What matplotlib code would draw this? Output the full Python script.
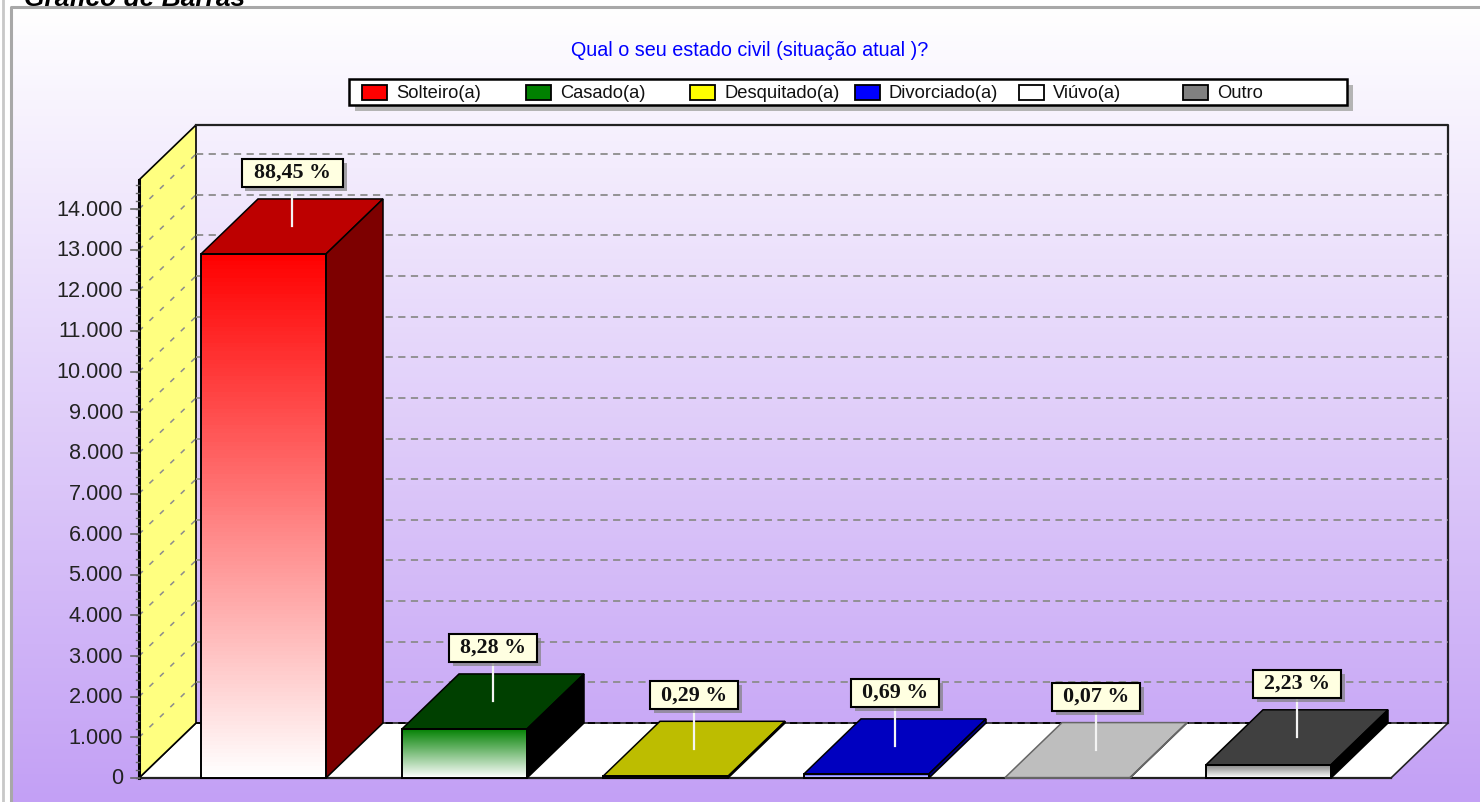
import numpy as np
from matplotlib import pyplot as plt
from matplotlib.colors import LinearSegmentedColormap
from matplotlib.patches import Polygon, Rectangle

categories = ['Solteiro(a)', 'Casado(a)', 'Desquitado(a)', 'Divorciado(a)', 'Viúvo(a)', 'Outro']
counts = [12894, 1207, 42, 101, 10, 325]
percents = ['88,45 %', '8,28 %', '0,29 %', '0,69 %', '0,07 %', '2,23 %']
front_colors = ['#ff0000', '#008000', '#ffff00', '#0000ff', '#ffffff', '#808080']
top_colors = ['#bd0000', '#004000', '#bdbd00', '#0000c0', '#bebebe', '#404040']
side_colors = ['#7d0000', '#000000', '#7d7d00', '#00007d', '#7d7d7d', '#000000']
edge_colors = ['#000000', '#000000', '#000000', '#000000', '#666666', '#000000']
y_ticks = list(range(0, 15000, 1000))

W, H = 1480, 802
SLOT = 201.0        # px per category
Y_SCALE = 569 / 14000  # px per unit
X0, Y0 = 201, 778   # px of category 0 / value 0
BAR_W = 125 / SLOT
DX = 57 / SLOT      # depth of the 3d box
DY = 55 / Y_SCALE


def px(n):
    return n / SLOT


def py(n):
    return n / Y_SCALE


fig = plt.figure(figsize=(W / 100, H / 100), dpi=100, facecolor='white')

# pixel axes for background, frame and legend
deco = fig.add_axes([0, 0, 1, 1])
deco.set_xlim(0, W)
deco.set_ylim(H, 0)
deco.axis('off')

bg = LinearSegmentedColormap.from_list('bg', ['#ffffff', '#c3a0f5'])
deco.imshow(np.linspace(0, 1, 256).reshape(-1, 1), cmap=bg, aspect='auto',
            extent=(11, W, H, 7), zorder=0)
deco.set_xlim(0, W)
deco.set_ylim(H, 0)
deco.plot([3, 3], [0, H], color='#c8c8c8', lw=2, zorder=1)
deco.plot([11, 11, W], [H, 7, 7], color='#a8a8a8', lw=2.2, zorder=1)
deco.text(24, 6, 'Gráfico de Barras', family='Liberation Sans', weight='bold', style='italic',
          fontsize=19, ha='left', va='baseline', color='black', zorder=0.5,
          clip_on=False)

deco.text(750, 50, 'Qual o seu estado civil (situação atual )?', color='#0000ff',
          family='Liberation Sans', fontsize=14.2, ha='center', va='center')

# legend
deco.add_patch(Rectangle((355, 85), 998, 26, color='#b4b4b4', lw=0, zorder=2))
deco.add_patch(Rectangle((349, 79), 998, 26, fc='white', ec='black', lw=1.8, zorder=3))
for i, name in enumerate(categories):
    sx = 362 + i * 164.2
    deco.add_patch(Rectangle((sx, 85), 25, 15, fc=front_colors[i], ec='black', lw=1.3, zorder=4))
    deco.text(sx + 34, 98, name, family='Liberation Sans', fontsize=13.2, ha='left', va='baseline',
              color='#111111', zorder=4)

# main axes, data units: x in categories, y in values
ax = fig.add_axes([0, 0, 1, 1])
ax.set_xlim(-X0 / SLOT, (W - X0) / SLOT)
ax.set_ylim((Y0 - H) / Y_SCALE, Y0 / Y_SCALE)
ax.axis('off')
ax.patch.set_alpha(0)

x_left = px(139 - X0)
x_right = px(1391 - X0)
y_max = py(778 - 180)
y_top_back = y_max + DY

# floor
ax.add_patch(Polygon([(x_left, 0), (x_left + DX, DY), (x_right + DX, DY), (x_right, 0)],
                     fc='white', ec='#222222', lw=1.2, zorder=1))
# left wall
ax.add_patch(Polygon([(x_left, 0), (x_left + DX, DY), (x_left + DX, y_top_back), (x_left, y_max)],
                     fc='#ffff80', ec='black', lw=1.2, zorder=1))
# back wall outline
ax.plot([x_left + DX, x_right + DX, x_right + DX], [y_top_back, y_top_back, DY],
        color='#222222', lw=1.6, zorder=1)

# gridlines on both walls
for t in y_ticks[1:]:
    ax.plot([x_left + DX, x_right + DX], [t + DY, t + DY], color='#8c8c8c', lw=1.3,
            dashes=(4, 3), zorder=1.5)
    ax.plot([x_left, x_left + DX], [t, t + DY], color='#8c8c8c', lw=1.1,
            dashes=(3.5, 6), zorder=1.5)
ax.plot([x_left + DX, x_right + DX], [DY, DY], color='black', lw=1.3, dashes=(4, 3), zorder=1.5)

# y axis
ax.plot([x_left, x_left], [0, y_max], color='black', lw=2.2, zorder=2)
ax.plot([x_left, x_right], [0, 0], color='#222222', lw=1.6, zorder=2)
for t in y_ticks:
    ax.plot([x_left - px(8), x_left], [t, t], color='#666666', lw=1.2, zorder=2)
    label = '0' if t == 0 else f'{t:,}'.replace(',', '.')
    ax.text(x_left - px(16), t - py(1), label, family='Liberation Sans', fontsize=15.6, ha='right',
            va='center', color='#222222', zorder=2)
for t in np.arange(0, y_max, 200):
    ax.plot([x_left - px(3), x_left], [t, t], color='#666666', lw=1, zorder=2)

# bars
for i, v in enumerate(counts):
    x1, x2 = i, i + BAR_W
    fade = LinearSegmentedColormap.from_list('fade', ['#ffffff', front_colors[i]])
    ax.imshow(np.linspace(1, 0, 128).reshape(-1, 1), cmap=fade, vmin=0, vmax=1, aspect='auto',
              extent=(x1, x2, 0, v), zorder=3)
    ax.add_patch(Rectangle((x1, 0), BAR_W, v, fc='none', ec=edge_colors[i], lw=1.4, zorder=3.2))
    ax.add_patch(Polygon([(x1, v), (x1 + DX, v + DY), (x2 + DX, v + DY), (x2, v)],
                         fc=top_colors[i], ec=edge_colors[i], lw=1.1, zorder=3.1))
    ax.add_patch(Polygon([(x2, 0), (x2, v), (x2 + DX, v + DY), (x2 + DX, DY)],
                         fc=side_colors[i], ec=edge_colors[i], lw=1.1, zorder=3.1))

    # value label with leader line, the box grows with the text
    cx = x1 + BAR_W / 2 + DX / 2
    box_w, box_h = px(101 if len(percents[i]) > 6 else 88), py(28)
    box_y = v + DY + py(12)
    ax.plot([cx, cx], [v + DY / 2, box_y], color='#f4f4f4', lw=1.6, zorder=4)
    ax.add_patch(Rectangle((cx - box_w / 2 + px(4), box_y - py(4)), box_w, box_h, color='#808080',
                           alpha=0.7, lw=0, zorder=4.1))
    ax.add_patch(Rectangle((cx - box_w / 2, box_y), box_w, box_h, fc='#ffffe1', ec='black',
                           lw=1.5, zorder=4.2))
    ax.text(cx, box_y + box_h / 2, percents[i], family='Liberation Serif', weight='bold',
            fontsize=15.8, ha='center', va='center', color='#111111', zorder=4.3)

# imshow resets limits
ax.set_xlim(-X0 / SLOT, (W - X0) / SLOT)
ax.set_ylim((Y0 - H) / Y_SCALE, Y0 / Y_SCALE)

fig.savefig('out.png', dpi=100)
